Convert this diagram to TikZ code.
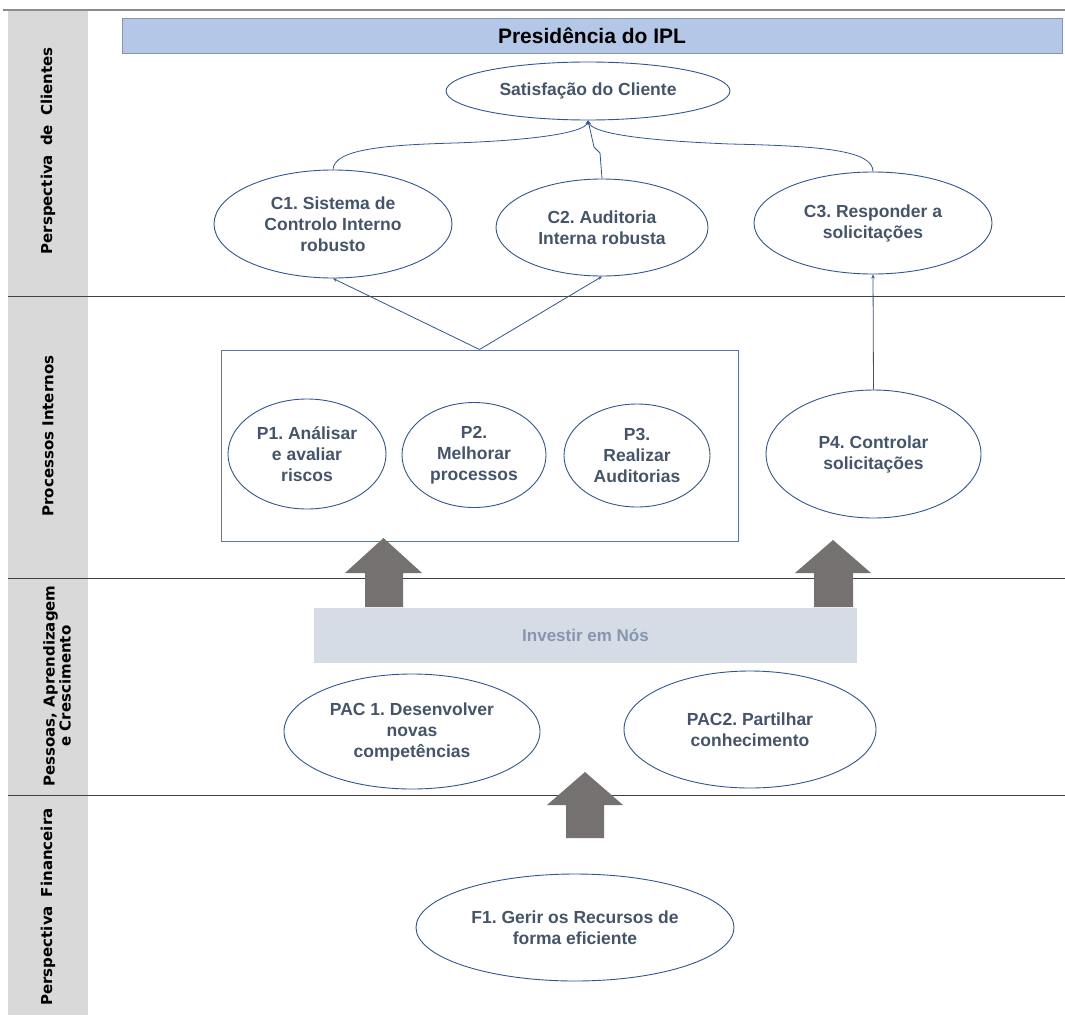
\documentclass[tikz,border=0pt]{standalone}
\usepackage{fontspec}
\setmainfont{Liberation Sans}
\newfontfamily\lanefont{DejaVu Sans}
\usetikzlibrary{shapes.geometric,arrows.meta}
\definecolor{elblue}{HTML}{2F5597}
\definecolor{txt}{HTML}{44546A}
\definecolor{hdrfill}{HTML}{B4C7E7}
\definecolor{hdrline}{HTML}{8497B0}
\definecolor{strip}{HTML}{D9D9D9}
\definecolor{bigarrow}{HTML}{767171}
\definecolor{invfill}{HTML}{D6DCE5}
\definecolor{invtxt}{HTML}{8497B0}
\tikzset{
  goal/.style={ellipse, draw=elblue, line width=0.9pt, inner sep=0pt, align=center,
     text=txt, font=\fontsize{17.5}{21}\selectfont\bfseries},
  link/.style={draw=elblue, line width=0.8pt},
  linkarrow/.style={link, -{Stealth[length=4pt,width=3.5pt]}},
  lane/.style={draw=black!75, line width=1pt},
  lanelabel/.style={rotate=90, align=center, font=\lanefont\fontsize{15}{16}\selectfont\bfseries},
  blockarrow/.style={fill=bigarrow, draw=none}
}
\begin{document}
\frenchspacing
\begin{tikzpicture}[x=1pt,y=-1pt]
\useasboundingbox (0,0) rectangle (1065,1017);
% left strip
\fill[strip] (8,11) rectangle (88,1015);
% lane lines
\draw[draw=black!45, line width=1.3pt] (3,10) -- (1065,10);
\draw[lane] (8,296) -- (1065,296);
\draw[lane] (8,578) -- (1065,578);
\draw[lane] (8,795) -- (1065,795);
% lane labels
\node[lanelabel] (l1) at (48,151) {Perspectiva\hspace{0.6em}de\hspace{0.6em}Clientes};
\node[lanelabel] (l2) at (48,436) {Processos Internos};
\node[lanelabel] (l3) at (57,686) {Pessoas, Aprendizagem\\e Crescimento};
\node[lanelabel] (l4) at (48,907) {Perspectiva\hspace{0.6em}Financeira};
% header
\node[draw=hdrline, fill=hdrfill, line width=1pt, minimum width=940pt, minimum height=35pt,
      font=\fontsize{21}{24}\selectfont\bfseries] (hdr) at (592,35.5) {Presidência do IPL};
% customers
\node[goal, minimum width=284pt, minimum height=58pt] (sat) at (588,91) {Satisfação do Cliente};
\node[goal, minimum width=238pt, minimum height=108pt] (c1) at (333,224) {C1. Sistema de\\Controlo Interno\\robusto};
\node[goal, minimum width=212pt, minimum height=97pt] (c2) at (602,227.5) {C2. Auditoria\\Interna robusta};
\node[goal, minimum width=238pt, minimum height=102pt] (c3) at (873,223) {C3. Responder a\\solicitações};
% connectors to satisfaction
\draw[linkarrow] (c1.north) .. controls (334,150) and (380,145) .. (455,143)
   .. controls (540,140) and (585,132) .. (sat.south);
\draw[linkarrow] (c2.north) -- (600,153) -- (594,147) -- (sat.south);
\draw[linkarrow] (c3.north) .. controls (873,150) and (820,146) .. (730,144)
   .. controls (630,140) and (592,132) .. (sat.south);
% internal processes
\node[draw=elblue!80!white, line width=1pt, minimum width=517pt, minimum height=191pt] (pbox) at (479.5,445.5) {};
\node[goal, minimum width=158pt, minimum height=110pt] (p1) at (307,454) {P1. Análisar\\e avaliar\\riscos};
\node[goal, minimum width=144pt, minimum height=105pt] (p2) at (474,455) {P2.\\Melhorar\\processos};
\node[goal, minimum width=146pt, minimum height=103pt] (p3) at (637,455.5) {P3.\\Realizar\\Auditorias};
\node[goal, minimum width=215pt, minimum height=128pt] (p4) at (873.5,454) {P4. Controlar\\solicitações};
\draw[linkarrow] (pbox.north) -- (c1.south);
\draw[linkarrow] (pbox.north) -- (c2.south);
\draw[linkarrow] (p4.north) -- (c3.south);
% block arrows
\fill[blockarrow] (365,607) -- (365,573) -- (345,573) -- (383.5,538) -- (422,573) -- (403,573) -- (403,607) -- cycle;
\fill[blockarrow] (814,607) -- (814,573) -- (795,573) -- (833,540) -- (871,573) -- (853,573) -- (853,607) -- cycle;
\fill[blockarrow] (566,838) -- (566,805) -- (547,805) -- (585,772) -- (623,805) -- (604,805) -- (604,838) -- cycle;
% people
\node[fill=invfill, minimum width=543pt, minimum height=55pt, text=invtxt,
      font=\fontsize{17}{20}\selectfont\bfseries] (inv) at (585.5,635.5) {Investir em Nós};
\node[goal, minimum width=256pt, minimum height=115pt] (pac1) at (412,731.5) {PAC 1. Desenvolver\\novas\\competências};
\node[goal, minimum width=252pt, minimum height=117pt] (pac2) at (750,729.5) {PAC2. Partilhar\\conhecimento};
% financial
\node[goal, minimum width=318pt, minimum height=107pt] (f1) at (575,927.5) {F1. Gerir os Recursos de\\forma eficiente};
\end{tikzpicture}
\end{document}
